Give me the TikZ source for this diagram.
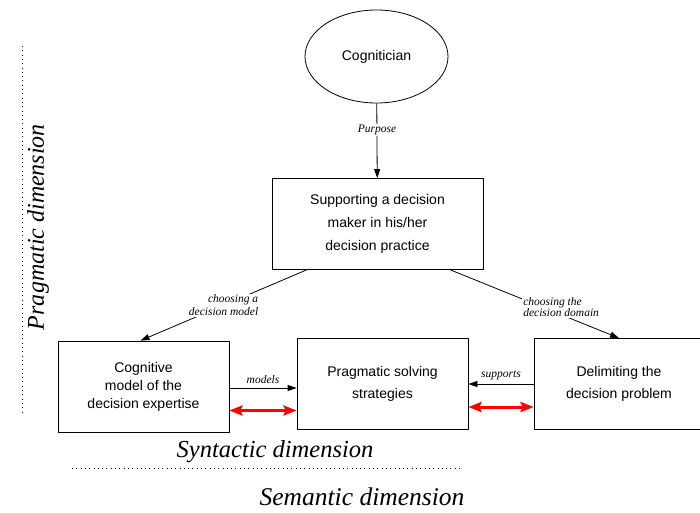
\documentclass[tikz,border=0pt]{standalone}
\usepackage{fontspec}
\setmainfont{Liberation Serif}
\setsansfont{Liberation Sans}
\usetikzlibrary{arrows.meta,shapes.geometric}
\tikzset{%
  box/.style={draw,line width=0.8pt,minimum width=#1,minimum height=91pt,
    align=center,font=\sffamily\fontsize{14}{22}\selectfont},
  box/.default=171pt,
  lbl/.style={fill=white,inner sep=1pt,font=\itshape\fontsize{11.5}{13}\selectfont},
  dim/.style={font=\itshape\fontsize{#1}{#1}\selectfont},
  flow/.style={line width=0.8pt,-{Triangle[length=9pt,width=6pt]}},
  link/.style={red,line width=3pt,{Stealth[length=13pt,width=10pt,inset=2pt]}-{Stealth[length=13pt,width=10pt,inset=2pt]}},
  dots/.style={line width=0.8pt,dash pattern=on 0.9pt off 3.4pt}
}
\begin{document}
\begin{tikzpicture}[x=1pt,y=-1pt]
  \useasboundingbox (0,0) rectangle (700,512);
  %
  \node[ellipse,draw,line width=0.8pt,minimum width=143pt,minimum height=93pt,
    font=\sffamily\fontsize{14}{16}\selectfont] (cog) at (376.5,56.5) {Cognitician};
  \node[box=211pt,font=\sffamily\fontsize{14}{23}\selectfont] (supp) at (377.5,224)
    {Supporting a decision\\maker in his/her\\decision practice};
  \node[box,font=\sffamily\fontsize{14}{18}\selectfont] (mdl) at (143.5,386.5)
    {Cognitive\\model of the\\decision expertise};
  \node[box] (prag) at (382.5,384) {Pragmatic solving\\strategies};
  \node[box=170pt] (delim) at (619,384) {Delimiting the\\decision problem};
  %
  \draw[flow] (cog) -- (supp) node[pos=0.36,lbl] (purp) {Purpose};
  \draw[flow] ([xshift=35pt]supp.south west) -- ([xshift=-3pt]mdl.north)
    node[midway,lbl,align=right] (lchoose) {choosing a\\decision model};
  \draw[flow] ([xshift=-33pt]supp.south east) -- (delim.north)
    node[pos=0.55,xshift=18pt,lbl,align=left,font=\itshape\fontsize{11.5}{11}\selectfont] (rchoose)
    {choosing the\\decision domain};
  \draw[flow] ([yshift=-1.5pt]mdl.east) -- ([yshift=-1.5pt]mdl.east -| prag.west)
    node[midway,above=3pt,lbl] (models) {models};
  \draw[flow] (delim.west) -- (prag.east) node[midway,above=3pt,lbl] (supports) {supports};
  %% red links
  \draw[link] ([yshift=-24pt]mdl.east) -- ([yshift=-24pt]mdl.east -| prag.west);
  \draw[link] ([yshift=-23pt]prag.east) -- ([yshift=-23pt]delim.west);
  %% dimensions
  \coordinate (v0) at (22,46);
  \coordinate (v1) at (22,415);
  \coordinate (h0) at (72,468);
  \coordinate (h1) at (460,468);
  \draw[dots] (v0) -- (v1);
  \draw[dots] (h0) -- (h1);
  \node[dim=24,rotate=90] (pragdim) at (38,227) {Pragmatic dimension};
  \node[dim=24.5] (syndim) at (275,452) {Syntactic dimension};
  \node[dim=25.5] (semdim) at (362,497) {Semantic dimension};
\end{tikzpicture}
\end{document}
